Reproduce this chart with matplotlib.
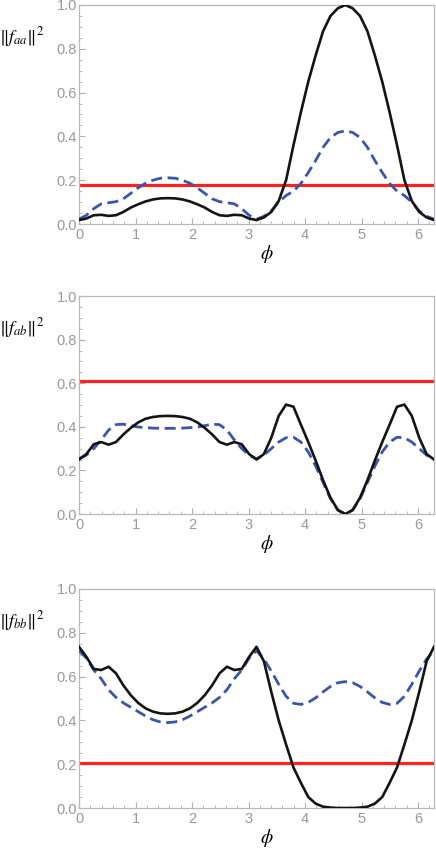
import numpy as np
import matplotlib
matplotlib.use("Agg")
import matplotlib.pyplot as plt
from matplotlib.ticker import MultipleLocator, FormatStrFormatter

plt.rcParams['mathtext.fontset'] = 'stix'
plt.rcParams['font.family'] = ['Liberation Sans', 'DejaVu Sans']

phi = np.linspace(0, 2 * np.pi, 49)

faa_solid = [0.018, 0.025, 0.040, 0.042, 0.037, 0.040, 0.055, 0.075, 0.090, 0.103, 0.112, 0.117, 0.118,
             0.117, 0.112, 0.103, 0.090, 0.075, 0.055, 0.040, 0.037, 0.042, 0.040, 0.025, 0.018,
             0.030, 0.055, 0.105, 0.200, 0.360, 0.510, 0.650, 0.770, 0.880, 0.950, 0.985, 1.000,
             0.985, 0.950, 0.880, 0.770, 0.650, 0.510, 0.360, 0.200, 0.105, 0.055, 0.030, 0.018]
faa_dash = [0.022, 0.040, 0.070, 0.092, 0.097, 0.102, 0.115, 0.140, 0.165, 0.186, 0.200, 0.209, 0.211,
            0.209, 0.200, 0.186, 0.165, 0.140, 0.115, 0.102, 0.097, 0.092, 0.070, 0.040, 0.022,
            0.035, 0.060, 0.100, 0.130, 0.150, 0.185, 0.235, 0.290, 0.350, 0.395, 0.418, 0.425,
            0.418, 0.395, 0.350, 0.290, 0.235, 0.185, 0.150, 0.130, 0.100, 0.060, 0.035, 0.022]

fab_solid = [0.250, 0.275, 0.320, 0.330, 0.318, 0.330, 0.365, 0.395, 0.420, 0.437, 0.445, 0.449, 0.450,
             0.449, 0.445, 0.437, 0.420, 0.395, 0.365, 0.330, 0.318, 0.330, 0.320, 0.275, 0.250,
             0.275, 0.350, 0.450, 0.502, 0.492, 0.410, 0.330, 0.245, 0.155, 0.075, 0.018, 0.000,
             0.018, 0.075, 0.155, 0.245, 0.330, 0.410, 0.492, 0.502, 0.450, 0.350, 0.275, 0.250]
fab_dash = [0.253, 0.270, 0.300, 0.340, 0.385, 0.410, 0.412, 0.405, 0.399, 0.396, 0.394, 0.393, 0.393,
            0.393, 0.394, 0.396, 0.399, 0.405, 0.412, 0.410, 0.385, 0.340, 0.300, 0.270, 0.253,
            0.270, 0.300, 0.330, 0.350, 0.352, 0.330, 0.285, 0.220, 0.145, 0.070, 0.018, 0.000,
            0.018, 0.070, 0.145, 0.220, 0.285, 0.330, 0.352, 0.350, 0.330, 0.300, 0.270, 0.253]

fbb_solid = [0.736, 0.690, 0.635, 0.630, 0.645, 0.615, 0.560, 0.515, 0.480, 0.455, 0.440, 0.432, 0.430,
             0.432, 0.440, 0.455, 0.480, 0.515, 0.560, 0.615, 0.645, 0.630, 0.635, 0.690, 0.736,
             0.670, 0.530, 0.400, 0.290, 0.185, 0.115, 0.050, 0.020, 0.006, 0.002, 0.000, 0.000,
             0.000, 0.002, 0.006, 0.020, 0.050, 0.115, 0.185, 0.290, 0.400, 0.530, 0.670, 0.736]
fbb_dash = [0.718, 0.685, 0.630, 0.590, 0.540, 0.505, 0.480, 0.460, 0.440, 0.420, 0.403, 0.393, 0.390,
            0.393, 0.403, 0.420, 0.440, 0.460, 0.480, 0.505, 0.540, 0.590, 0.630, 0.685, 0.718,
            0.680, 0.625, 0.565, 0.510, 0.478, 0.473, 0.482, 0.503, 0.530, 0.555, 0.572, 0.577,
            0.572, 0.555, 0.530, 0.503, 0.482, 0.473, 0.478, 0.510, 0.565, 0.625, 0.680, 0.718]

red_levels = [0.18, 0.61, 0.205]
ylabels = [r'$\Vert f_{aa}\Vert^2$', r'$\Vert f_{ab}\Vert^2$', r'$\Vert f_{bb}\Vert^2$']

solids = [faa_solid, fab_solid, fbb_solid]
dashes = [faa_dash, fab_dash, fbb_dash]

# --- figure ---
fig = plt.figure(figsize=(4.36, 8.51), dpi=100)
W, H = 436.0, 851.0
# (left, top, bottom) pixel positions of each panel
boxes = [(79, 5, 224), (79, 296, 514), (79, 589, 808)]

grey = '#999999'
for i, (l, t, b) in enumerate(boxes):
    ax = fig.add_axes([l / W, 1 - b / H, 355 / W, (b - t) / H])
    ax.axhline(red_levels[i], color='#ff2020', lw=2.3, zorder=2)
    ax.plot(phi, dashes[i], color='#3a56a8', lw=2.0, dashes=(4, 2), zorder=3)
    ax.plot(phi, solids[i], color='#141414', lw=1.9, zorder=4)

    ax.set_xlim(0, 2 * np.pi)
    ax.set_ylim(0, 1.0)
    ax.xaxis.set_major_locator(MultipleLocator(1))
    ax.xaxis.set_minor_locator(MultipleLocator(0.2))
    ax.yaxis.set_major_locator(MultipleLocator(0.2))
    ax.yaxis.set_minor_locator(MultipleLocator(0.05))
    ax.yaxis.set_major_formatter(FormatStrFormatter('%.1f'))
    ax.tick_params(which='both', direction='in', colors='#b0b0b0', labelcolor=grey,
                   labelsize=10.5, pad=1.5, top=False, right=False)
    ax.tick_params(axis='x', which='major', pad=3)
    ax.tick_params(which='major', length=4, width=0.8)
    ax.tick_params(which='minor', length=2, width=0.6)
    for sp in ax.spines.values():
        sp.set_color('#b8b8b8')
        sp.set_linewidth(0.9)

    ax.set_xlabel(r'$\phi$', fontsize=14)
    ax.xaxis.set_label_coords(0.53, -0.085)
    ax.text(-0.225, 0.855, ylabels[i], transform=ax.transAxes, fontsize=13,
            ha='left', va='center')

fig.savefig('out.png', dpi=100)
